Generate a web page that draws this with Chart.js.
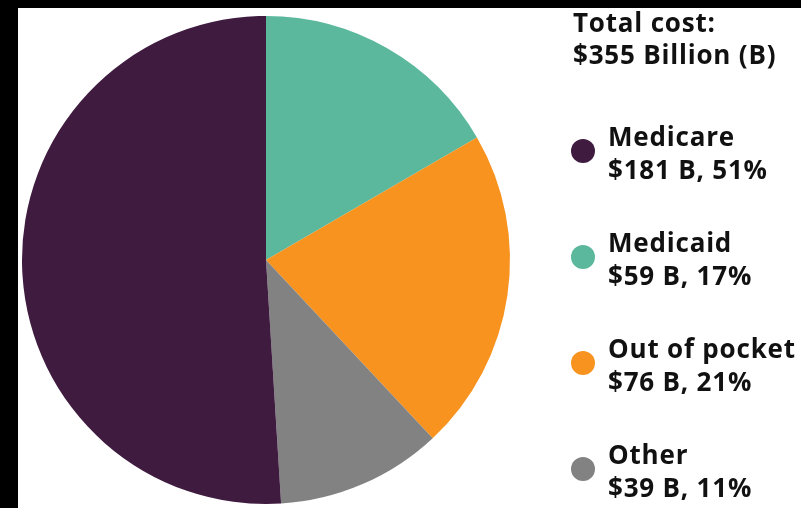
<!DOCTYPE html>
<html>
<head>
<meta charset="utf-8">
<script src="https://cdn.jsdelivr.net/npm/chart.js@4"></script>
<style>
  html, body { margin: 0; padding: 0; background: #000; }
  #wrap { position: absolute; left: 18px; top: 8px; width: 783px; height: 500px; background: #fff; }
  #costChart { display: block; }
</style>
</head>
<body>
<div id="wrap"><canvas id="costChart" width="783" height="500"></canvas></div>
<script>
// --- Datos ---
const categories = ['Medicaid', 'Out of pocket', 'Other', 'Medicare'];
const values = [59, 76, 39, 181];          // billones de dólares
const percents = [17, 21, 11, 51];
const legendOrder = ['Medicare', 'Medicaid', 'Out of pocket', 'Other'];
const totalLabel = ['Total cost:', '$355 Billion (B)'];
const colors = ['#5BB89C', '#F8931F', '#828282', '#3F1B3F'];

// Leyenda dibujada a mano a la derecha
const sideLegend = {
    id: 'sideLegend',
    afterDraw(chart) {
        const { ctx } = chart;
        ctx.save();
        ctx.font = "bold 26px 'Open Sans', sans-serif";
        ctx.letterSpacing = '0.8px';
        ctx.fillStyle = '#111';
        ctx.textAlign = 'left';
        ctx.textBaseline = 'alphabetic';
        ctx.fillText(totalLabel[0], 555, 24);
        ctx.fillText(totalLabel[1], 555, 56);

        legendOrder.forEach((name, i) => {
            const idx = categories.indexOf(name);
            const y = 138 + i * 106;
            ctx.fillStyle = colors[idx];
            ctx.beginPath();
            ctx.arc(565, y + 5, 12, 0, Math.PI * 2);
            ctx.fill();
            ctx.fillStyle = '#111';
            ctx.fillText(name, 590, y);
            ctx.fillText('$' + values[idx] + ' B, ' + percents[idx] + '%', 590, y + 33);
        });
        ctx.restore();
    }
};

new Chart(document.getElementById('costChart').getContext('2d'), {
    type: 'pie',
    data: {
        labels: categories,
        datasets: [{
            data: values,
            backgroundColor: colors,
            borderWidth: 0
        }]
    },
    options: {
        responsive: false,
        animation: false,
        layout: { padding: { left: 4, right: 291, top: 8, bottom: 4 } },
        plugins: {
            legend: { display: false },
            tooltip: { enabled: false }
        }
    },
    plugins: [sideLegend]
});
</script>
</body>
</html>
